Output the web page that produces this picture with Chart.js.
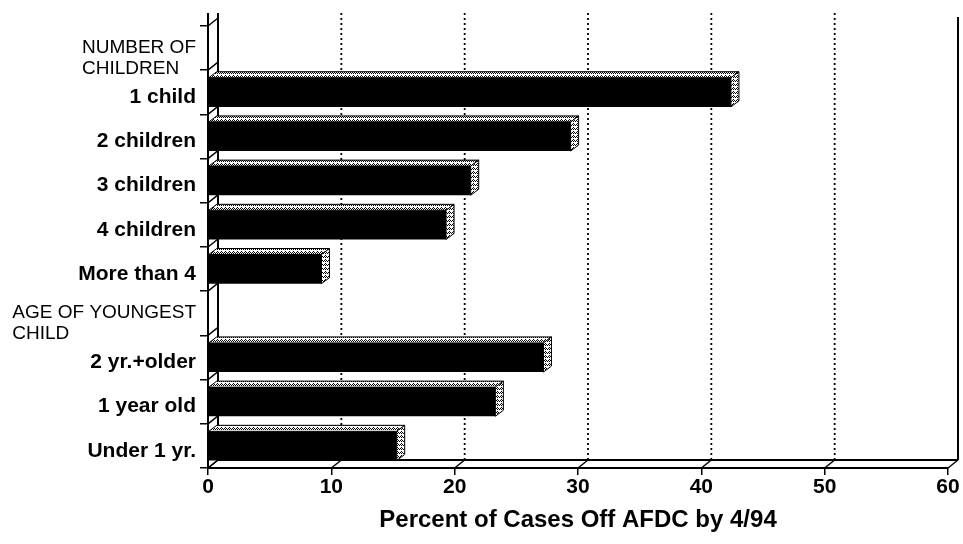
<!DOCTYPE html>
<html><head><meta charset="utf-8">
<script src="https://cdn.jsdelivr.net/npm/chart.js@4/dist/chart.umd.min.js"></script>
<style>html,body{margin:0;padding:0;background:#fff}canvas{display:block}</style>
</head><body>
<canvas id="c" width="963" height="544"></canvas>
<script>
// ---- data ----
const categories = [["NUMBER OF","CHILDREN"],"1 child","2 children","3 children","4 children","More than 4",["AGE OF YOUNGEST","CHILD"],"2 yr.+older","1 year old","Under 1 yr."];
const headerRows = [true,false,false,false,false,false,true,false,false,false];
const percentOff = [null,42.4,29.4,21.3,19.3,9.2,null,27.2,23.3,15.3];
const xTicks = [0,10,20,30,40,50,60];
const axisTitle = "Percent of Cases Off AFDC by 4/94";

const FAMILY = '"Liberation Sans", Arial, Helvetica, sans-serif';
const WALL_DX = 10, WALL_DY = 8, BAR_DX = 8, BAR_DY = 6, TOP_EXT = 13;

function makePattern(ctx){
  const c = document.createElement('canvas'); c.width = 4; c.height = 4;
  const g = c.getContext('2d');
  g.fillStyle = '#fff'; g.fillRect(0,0,4,4);
  g.fillStyle = '#000';
  [[0,0],[1,1],[2,0],[3,1],[1,3]].forEach(([x,y])=>g.fillRect(x,y,1,1));
  return ctx.createPattern(c,'repeat');
}

const depthPlugin = {
  id: 'depth3d',
  beforeDatasetsDraw(chart){
    const {ctx, chartArea:{left,right,top,bottom}, scales:{x:xs, y:ys}} = chart;
    const topY = top - TOP_EXT;
    ctx.save();
    ctx.strokeStyle = '#000';
    ctx.lineWidth = 1.8;
    // dotted back gridlines
    ctx.setLineDash([2,3]);
    xTicks.forEach(v=>{
      if (v===xTicks[0] || v===xTicks[xTicks.length-1]) return;
      const px = xs.getPixelForValue(v) + WALL_DX;
      ctx.beginPath(); ctx.moveTo(px, topY); ctx.lineTo(px, bottom - WALL_DY); ctx.stroke();
    });
    ctx.setLineDash([]);
    // back wall / floor / right edge
    ctx.lineWidth = 2;
    ctx.beginPath();
    ctx.moveTo(left, topY); ctx.lineTo(left, top);
    ctx.moveTo(left + WALL_DX, topY); ctx.lineTo(left + WALL_DX, bottom - WALL_DY);
    ctx.lineTo(right + WALL_DX, bottom - WALL_DY);
    ctx.moveTo(right + WALL_DX, topY + 4); ctx.lineTo(right + WALL_DX, bottom - WALL_DY);
    ctx.stroke();
    // slanted connectors on category boundaries
    ctx.lineWidth = 1.5;
    const n = categories.length;
    const band = (bottom - top) / n;
    for (let i = 0; i <= n; i++){
      const yb = (i < n ? ys.getPixelForValue(i) - band/2 : ys.getPixelForValue(n-1) + band/2);
      ctx.beginPath(); ctx.moveTo(left, yb); ctx.lineTo(left + WALL_DX, yb - WALL_DY); ctx.stroke();
    }
    // slanted connectors on value ticks
    xTicks.forEach(v=>{
      const px = xs.getPixelForValue(v);
      ctx.beginPath(); ctx.moveTo(px, bottom); ctx.lineTo(px + WALL_DX, bottom - WALL_DY); ctx.stroke();
    });
    ctx.restore();
  },
  afterDatasetsDraw(chart){
    const {ctx} = chart;
    const pat = makePattern(ctx);
    const meta = chart.getDatasetMeta(0);
    ctx.save();
    ctx.strokeStyle = '#000';
    ctx.lineWidth = 1;
    meta.data.forEach((bar, i)=>{
      if (percentOff[i] == null) return;
      const {x, y, base, height} = bar.getProps(['x','y','base','height'], true);
      const t = y - height/2, b = y + height/2;
      ctx.fillStyle = pat;
      ctx.beginPath();
      ctx.moveTo(base, t); ctx.lineTo(base + BAR_DX, t - BAR_DY);
      ctx.lineTo(x + BAR_DX, t - BAR_DY); ctx.lineTo(x, t); ctx.closePath();
      ctx.fill(); ctx.stroke();
      ctx.beginPath();
      ctx.moveTo(x, t); ctx.lineTo(x + BAR_DX, t - BAR_DY);
      ctx.lineTo(x + BAR_DX, b - BAR_DY); ctx.lineTo(x, b); ctx.closePath();
      ctx.fill(); ctx.stroke();
    });
    ctx.restore();
  },
  afterDraw(chart){
    const {ctx, chartArea:{left}, scales:{y:ys}} = chart;
    ctx.save();
    ctx.fillStyle = '#000';
    ctx.textBaseline = 'middle';
    const xr = left - 12;
    categories.forEach((lab, i)=>{
      const yc = ys.getPixelForValue(i);
      if (headerRows[i]){
        ctx.font = '19px ' + FAMILY;
        const lines = Array.isArray(lab) ? lab : [lab];
        const w = Math.max(...lines.map(s=>ctx.measureText(s).width));
        ctx.textAlign = 'left';
        const lh = 21;
        const y0 = yc + 10 - (lines.length-1)*lh/2;
        lines.forEach((s,k)=>ctx.fillText(s, xr - w, y0 + k*lh));
      } else {
        ctx.font = 'bold 21px ' + FAMILY;
        ctx.textAlign = 'right';
        ctx.fillText(lab, xr, yc + 5);
      }
    });
    ctx.restore();
  }
};

new Chart(document.getElementById('c'), {
  type: 'bar',
  data: {
    labels: categories,
    datasets: [{
      data: percentOff,
      backgroundColor: '#000',
      borderWidth: 0,
      barPercentage: 0.66,
      categoryPercentage: 1.0
    }]
  },
  options: {
    indexAxis: 'y',
    responsive: false,
    animation: false,
    devicePixelRatio: 1,
    layout: { padding: { top: 26, right: 15, left: 0, bottom: 0 } },
    plugins: { legend: { display: false }, tooltip: { enabled: false } },
    scales: {
      x: {
        type: 'linear', min: 0, max: 60,
        afterBuildTicks: s => { s.ticks = xTicks.map(v => ({ value: v })); },
        grid: { display: true, drawOnChartArea: false, drawTicks: true, tickLength: 7, color: '#000', lineWidth: 1.5 },
        border: { display: true, color: '#000', width: 2 },
        ticks: { color: '#000', padding: 0, maxRotation: 0, font: { family: FAMILY, size: 21, weight: 'bold' } },
        title: { display: true, text: axisTitle, color: '#000', padding: { top: 9, bottom: 9 },
                 font: { family: FAMILY, size: 24, weight: 'bold' } },
        afterFit: s => { s.height = 76; }
      },
      y: {
        type: 'category',
        offset: true,
        grid: { display: true, offset: true, drawOnChartArea: false, drawTicks: true, tickLength: 8, color: '#000', lineWidth: 1.5 },
        border: { display: true, color: '#000', width: 2 },
        ticks: { display: false },
        afterFit: s => { s.width = 208; }
      }
    }
  },
  plugins: [depthPlugin]
});
</script>
</body></html>
